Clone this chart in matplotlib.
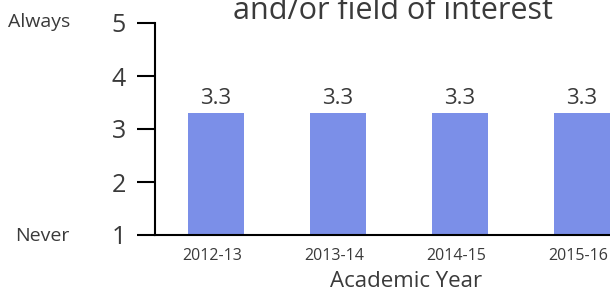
import matplotlib.pyplot as plt
import matplotlib.transforms as mtransforms

# data
years = ["2012-13", "2013-14", "2014-15", "2015-16"]
scores = [3.3, 3.3, 3.3, 3.3]
yticks = [1, 2, 3, 4, 5]

bar_color = "#7b8fe8"
text_color = "#3a3a3a"

plt.rcParams['font.family'] = ['Open Sans', 'DejaVu Sans']

fig = plt.figure(figsize=(6.1, 2.95), dpi=100)
# axes runs past the right edge, like the reference crop
ax = fig.add_axes([155/610, 60/295, 488/610, 212/295])

x = range(len(years))
bars = ax.bar(x, scores, width=0.46, color=bar_color, bottom=0)
ax.bar_label(bars, labels=[f"{v:.1f}" for v in scores], padding=3,
             fontsize=16, color=text_color)

ax.set_xlim(-0.5, 3.5)
ax.set_ylim(1, 5)
ax.set_yticks(yticks)
ax.set_yticklabels([str(t) for t in yticks], fontsize=18, color=text_color)
ax.set_xticks(list(x))
ax.set_xticklabels(years, fontsize=11.5, color=text_color)

for s in ["top", "right"]:
    ax.spines[s].set_visible(False)
for s in ["left", "bottom"]:
    ax.spines[s].set_linewidth(1.5)
ax.tick_params(axis="y", length=13, width=1.5, pad=8)
ax.tick_params(axis="x", length=0, pad=9)

# year labels sit a few px left of the bar centres (after tick_params,
# which resets the label transforms)
shift = mtransforms.ScaledTranslation(-4/100, 0, fig.dpi_scale_trans)
for tick in ax.xaxis.get_major_ticks():
    tick.label1.set_transform(tick.label1.get_transform() + shift)

ax.set_xlabel("Academic Year", fontsize=16, color=text_color)
ax.xaxis.set_label_coords(0.514, -0.17)

# scale end labels
fig.text(39/610, 1 - 22/295, "Always", fontsize=14, color=text_color,
         ha="center", va="center")
fig.text(42/610, 1 - 236/295, "Never", fontsize=14, color=text_color,
         ha="center", va="center")

# title, first line falls off the top of the image
fig.text(393/610, 1 - 19/295, "and/or field of interest", fontsize=22,
         color=text_color, ha="center", va="baseline")

fig.savefig("out.png", dpi=100)
